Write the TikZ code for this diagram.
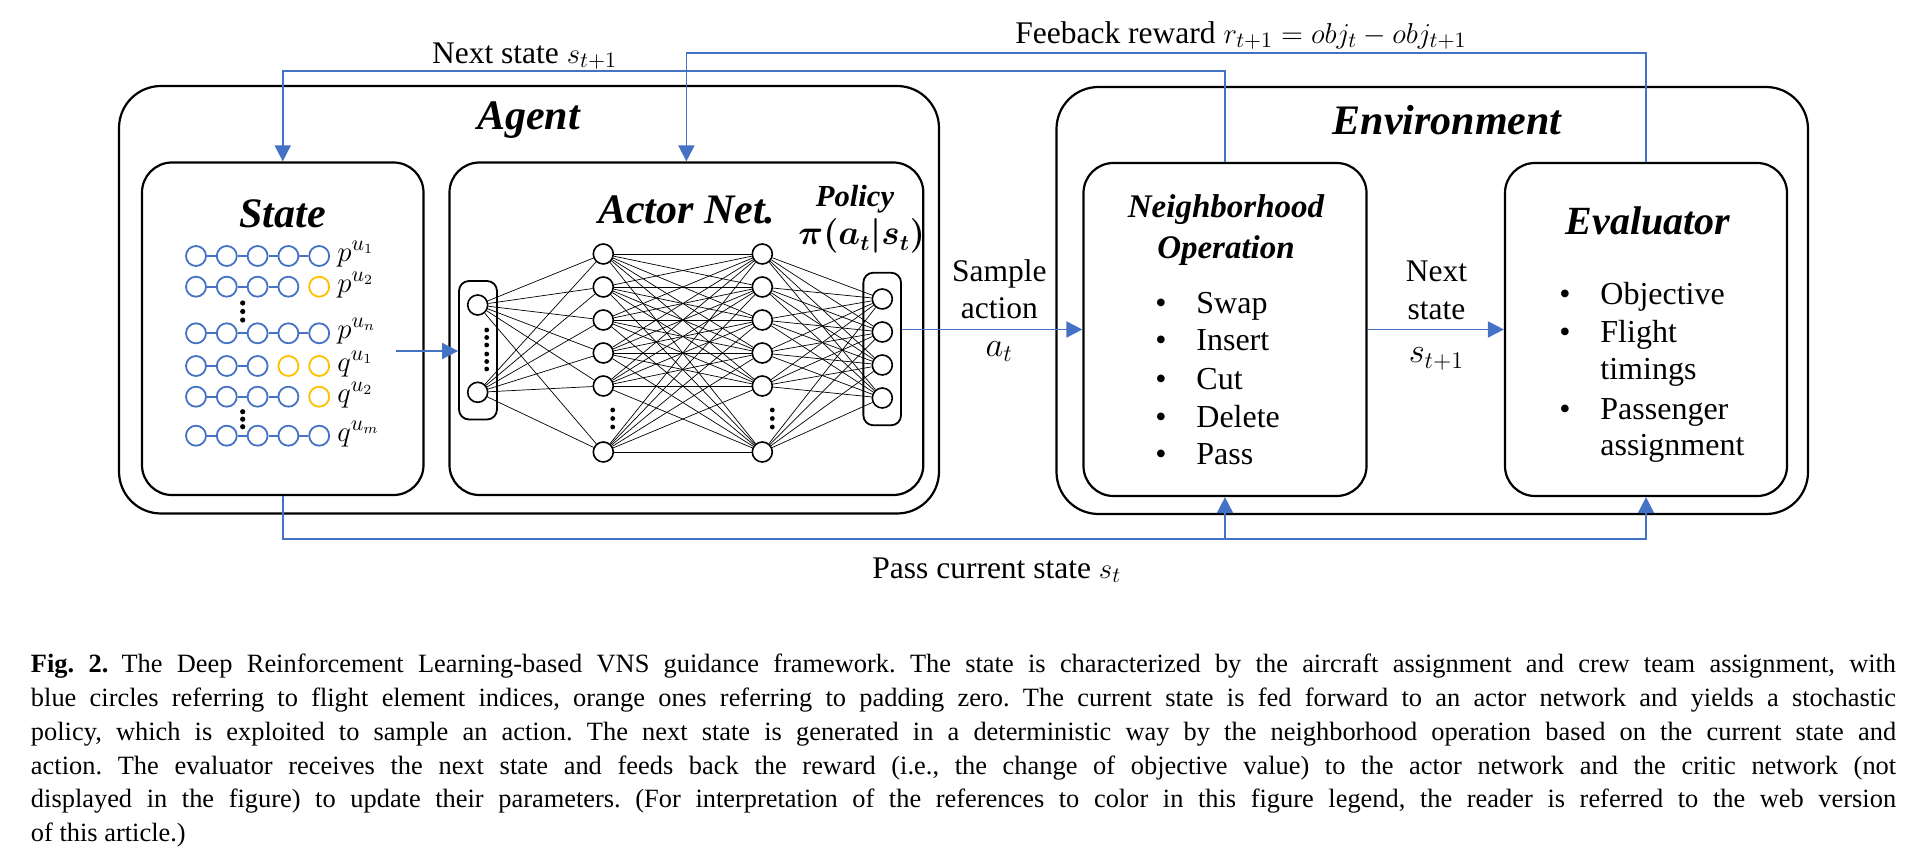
\documentclass[tikz,border=0pt]{standalone}
\usepackage{fontspec}
\setmainfont{Liberation Serif}
\usepackage{bm}
\usetikzlibrary{arrows.meta}
\definecolor{oblue}{HTML}{4472C4}
\definecolor{ogold}{HTML}{FFC000}
\begin{document}
\begin{tikzpicture}[x=0.5pt,y=-0.5pt,
  bigbox/.style={draw,line width=1.1pt,rounded corners=21pt,inner sep=0pt},
  box/.style={draw,line width=1.1pt,rounded corners=15pt,inner sep=0pt},
  layerbox/.style={draw,line width=0.9pt,rounded corners=5pt,inner sep=0pt},
  neuron/.style={circle,draw,line width=0.8pt,minimum size=10pt,inner sep=0pt,fill=white},
  bc/.style={circle,draw=oblue,line width=0.9pt,minimum size=10pt,inner sep=0pt},
  oc/.style={circle,draw=ogold,line width=0.9pt,minimum size=10pt,inner sep=0pt},
  nnline/.style={line width=0.35pt},
  bline/.style={draw=oblue,line width=0.9pt},
  barrow/.style={draw=oblue,line width=0.9pt,-{Triangle[length=8pt,width=8pt]},color=oblue},
  bigtitle/.style={anchor=base,font=\fontsize{21}{25}\selectfont\bfseries\itshape,inner sep=0pt},
  lbl/.style={anchor=base,font=\fontsize{15.75}{19}\selectfont,inner sep=0pt},
  itm/.style={anchor=base west,font=\fontsize{16}{19}\selectfont,inner sep=0pt},
  bul/.style={anchor=base,font=\fontsize{16}{19}\selectfont,inner sep=0pt},
  slbl/.style={anchor=west,font=\fontsize{15}{18}\selectfont,inner sep=0pt}
]
\useasboundingbox (0,0) rectangle (1917,865);

% outer boxes
\node[bigbox,minimum width=410pt,minimum height=213.75pt] (agent) at (529,299.75) {};
\node[bigbox,minimum width=375.75pt,minimum height=213.5pt] (env) at (1432.25,300.5) {};
% inner boxes
\node[box,minimum width=140.75pt,minimum height=166.25pt] (state) at (282.75,328.75) {};
\node[box,minimum width=236.9pt,minimum height=166.25pt] (actor) at (686.4,328.75) {};
\node[box,minimum width=141.5pt,minimum height=166.5pt] (neigh) at (1225,329.5) {};
\node[box,minimum width=141pt,minimum height=166.5pt] (eval) at (1646,329.5) {};

% titles
\node[bigtitle] (tagent) at (528.6,130) {Agent};
\node[bigtitle] (tenv) at (1447,135) {Environment};
\node[bigtitle] (tstate) at (282.7,228) {State};
\node[bigtitle] (tactor) at (686.7,224) {Actor Net.};
\node[anchor=base,inner sep=0pt,font=\fontsize{15.3}{18}\selectfont\bfseries\itshape] (tpol) at (855,206.7) {Policy};
\node[anchor=base,inner sep=0pt,font=\fontsize{16}{19}\selectfont] (tpi) at (861.7,245) {$\bm{\pi(a_t|s_t)}$};
\node[anchor=base,inner sep=0pt,font=\fontsize{16.5}{20}\selectfont\bfseries\itshape] (tneigh1) at (1226,218) {Neighborhood};
\node[anchor=base,inner sep=0pt,font=\fontsize{16.5}{20}\selectfont\bfseries\itshape] (tneigh2) at (1226,258.3) {Operation};
\node[anchor=base,inner sep=0pt,font=\fontsize{20}{24}\selectfont\bfseries\itshape] (teval) at (1648,235) {Evaluator};

% neighborhood items
\foreach \y/\t [count=\k] in {313.3/Swap,351/Insert,389.3/Cut,427.3/Delete,465/Pass}{
  \node[bul] (nb\k) at (1161,\y) {•};
  \node[itm] (ni\k) at (1196,\y) {\t};
}
% evaluator items
\node[bul] (eb1) at (1565,305) {•};
\node[itm] (ei1) at (1600,305) {Objective};
\node[bul] (eb2) at (1565,342.7) {•};
\node[itm] (ei2) at (1600,342.7) {Flight};
\node[itm] (ei3) at (1600,380) {timings};
\node[bul] (eb3) at (1565,419.3) {•};
\node[itm] (ei4) at (1600,419.3) {Passenger};
\node[itm] (ei5) at (1600,456) {assignment};

% state circles
\foreach \r/\y/\nb in {1/256/5,2/286.7/4,3/333.3/5,4/366/3,5/396.7/4,6/435.7/5}{
  \foreach \c in {1,...,5}{
    \ifnum\c>\nb\relax\def\cst{oc}\else\def\cst{bc}\fi
    \node[\cst] (s\r-\c) at ({196+30.8*(\c-1)},\y) {};
  }
  \foreach \c [count=\d from 2] in {1,...,4}{
    \ifnum\d>\nb\relax\else\draw[bline] (s\r-\c) -- (s\r-\d);\fi
  }
}
\foreach \y in {303,311.5,320,411.7,419.2,426.7}{\fill (242.7,\y) circle (1.3pt);}
\node[slbl] (lp1) at (337,254) {$p^{u_1}$};
\node[slbl] (lp2) at (337,285) {$p^{u_2}$};
\node[slbl] (lp3) at (337,331) {$p^{u_n}$};
\node[slbl] (lq1) at (337,364) {$q^{u_1}$};
\node[slbl] (lq2) at (337,395) {$q^{u_2}$};
\node[slbl] (lq3) at (337,434) {$q^{u_m}$};

% neural net
\node[layerbox,minimum width=19pt,minimum height=69.25pt] (inbox) at (478,350.25) {};
\node[layerbox,minimum width=18.85pt,minimum height=76.3pt] (outbox) at (882.2,349) {};
\node[neuron] (in1) at (477.7,305) {};
\node[neuron] (in2) at (477.7,392.3) {};
\foreach \y [count=\k] in {254,287,320,353,386,452}{
  \node[neuron] (ha\k) at (603.3,\y) {};
  \node[neuron] (hb\k) at (762.3,\y) {};
}
\foreach \y [count=\k] in {299,332,365,398}{
  \node[neuron] (o\k) at (882.3,\y) {};
}
\foreach \i in {1,2}{\foreach \j in {1,...,6}{\draw[nnline] (in\i) -- (ha\j);}}
\foreach \i in {1,...,6}{\foreach \j in {1,...,6}{\draw[nnline] (ha\i) -- (hb\j);}}
\foreach \i in {1,...,6}{\foreach \j in {1,...,4}{\draw[nnline] (hb\i) -- (o\j);}}
\foreach \y in {330,337.5,345,354,361.5,369}{\fill (486.7,\y) circle (1.2pt);}
\foreach \y in {410,418.5,427}{\fill (612.7,\y) circle (1.2pt); \fill (772.3,\y) circle (1.2pt);}

% connectors
\coordinate (ytop1) at (0,70.7);
\coordinate (ytop2) at (0,52.7);
\coordinate (ybot) at (0,539.3);
\coordinate (sout) at (396,351);
\draw[barrow] (sout) -- (inbox.west |- sout);
\draw[barrow] (outbox.east |- neigh.west) -- (neigh.west);
\draw[barrow] (neigh.east) -- (eval.west);
\draw[barrow] (neigh.north) -- (neigh.north |- ytop1) -- (state.north |- ytop1) -- (state.north);
\draw[barrow] (eval.north) -- (eval.north |- ytop2) -- (actor.north |- ytop2) -- (actor.north);
\draw[barrow] (state.south) -- (state.south |- ybot) -- (eval.south |- ybot) -- (eval.south);
\draw[barrow] (neigh.south |- ybot) -- (neigh.south);

% connector labels
\node[lbl,anchor=base west] (lnext) at (431.7,63.3) {Next state $s_{t+1}$};
\node[lbl,anchor=base west] (lfeed) at (1015,43.3) {Feeback reward $r_{t+1} = obj_t - obj_{t+1}$};
\node[lbl,anchor=base west] (lpass) at (872,578.3) {Pass current state $s_t$};
\node[lbl] (lsa1) at (999.3,281.7) {Sample};
\node[lbl] (lsa2) at (999.3,319) {action};
\node[lbl,font=\fontsize{17.5}{20}\selectfont] (lsa3) at (999.3,356.7) {$a_t$};
\node[lbl] (lns1) at (1436.5,281.7) {Next};
\node[lbl] (lns2) at (1436.5,319.3) {state};
\node[lbl,font=\fontsize{17.5}{20}\selectfont] (lns3) at (1436.5,363) {$s_{t+1}$};

% caption
\node[anchor=north west,inner sep=0pt,text width=932.5pt,align=justify,
      font=\fontsize{13.2}{16.85}\selectfont] (cap) at (30.6,654) {%
\frenchspacing\hyphenpenalty=10000\tolerance=9999\emergencystretch=20pt
\textbf{Fig.~2.}\enspace The Deep Reinforcement Learning-based VNS guidance framework. The state is characterized by the aircraft assignment and crew team assignment, with\linebreak
blue circles referring to flight element indices, orange ones referring to padding zero. The current state is fed forward to an actor network and yields a stochastic\linebreak
policy, which is exploited to sample an action. The next state is generated in a deterministic way by the neighborhood operation based on the current state and\linebreak
action. The evaluator receives the next state and feeds back the reward (i.e., the change of objective value) to the actor network and the critic network (not\linebreak
displayed in the figure) to update their parameters. (For interpretation of the references to color in this figure legend, the reader is referred to the web version\linebreak
of this article.)};
\end{tikzpicture}
\end{document}
